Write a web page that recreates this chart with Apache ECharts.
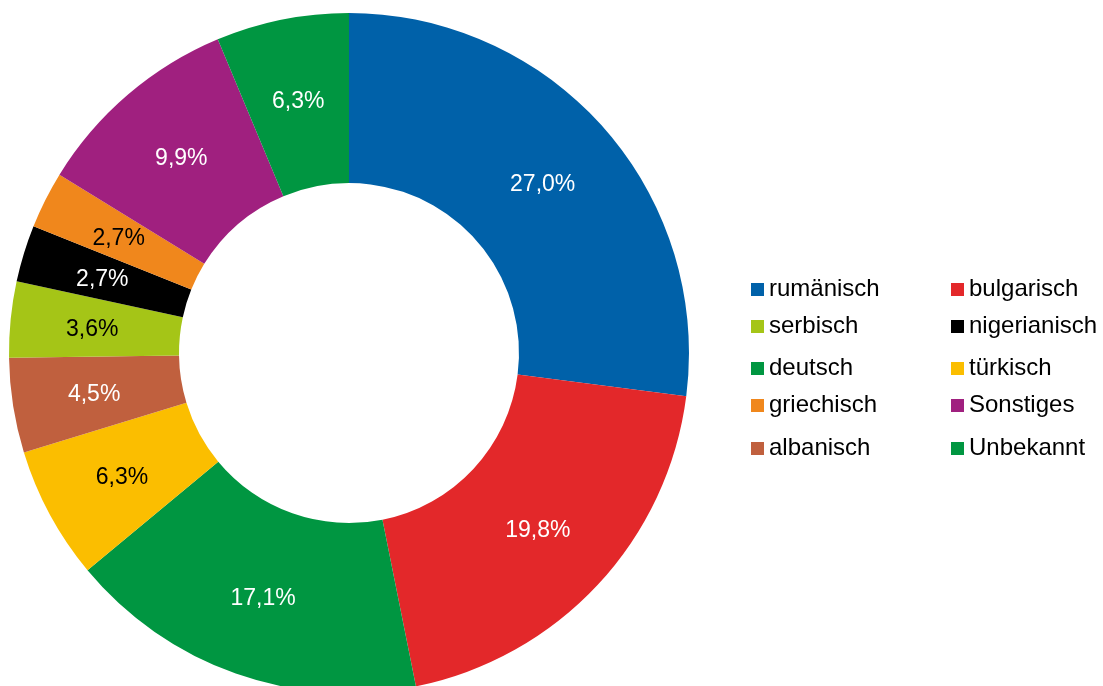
<!DOCTYPE html>
<html>
<head>
<meta charset="utf-8">
<script src="https://cdn.jsdelivr.net/npm/echarts@6/dist/echarts.min.js"></script>
<style>
  html, body { margin: 0; padding: 0; background: #ffffff; }
  #chart { width: 1103px; height: 686px; }
</style>
</head>
<body>
<div id="chart"></div>
<script>
// Staatsangehörigkeit – Anteile in Prozent (Reihenfolge im Uhrzeigersinn ab 12 Uhr)
const categories = ['rumänisch', 'bulgarisch', 'deutsch', 'türkisch', 'albanisch',
                    'serbisch', 'nigerianisch', 'griechisch', 'Sonstiges', 'Unbekannt'];
const shares = [27.0, 19.8, 17.1, 6.3, 4.5, 3.6, 2.7, 2.7, 9.9, 6.3];
const colors = ['#0061A9', '#E3282A', '#009641', '#FBBE00', '#C0603E',
                '#A5C517', '#000000', '#F0871C', '#A0207F', '#009641'];
const labelColors = ['#ffffff', '#ffffff', '#ffffff', '#000000', '#ffffff',
                     '#000000', '#ffffff', '#000000', '#ffffff', '#ffffff'];

// Legende: zwei Spalten, zeilenweise gelesen
const legendRows = [
  ['rumänisch', 'bulgarisch'],
  ['serbisch', 'nigerianisch'],
  ['deutsch', 'türkisch'],
  ['griechisch', 'Sonstiges'],
  ['albanisch', 'Unbekannt']
];
const legendRowY = [288, 325, 367, 404, 447];
const legendColX = [751, 951];

const fontFamily = '"Liberation Sans", Arial, sans-serif';
const fmt = v => v.toFixed(1).replace('.', ',') + '%';

const legends = [];
legendRows.forEach((row, r) => {
  row.forEach((name, c) => {
    legends.push({
      data: [name],
      left: legendColX[c],
      top: legendRowY[r] - 10.5,
      padding: 0,
      icon: 'rect',
      itemWidth: 13,
      itemHeight: 13,
      itemGap: 0,
      selectedMode: false,
      textStyle: { fontFamily, fontSize: 24, color: '#000000', padding: [0, 0, 0, 0] }
    });
  });
});

const chart = echarts.init(document.getElementById('chart'), null, { renderer: 'canvas' });
chart.setOption({
  animation: false,
  backgroundColor: '#ffffff',
  legend: legends,
  series: [{
    type: 'pie',
    center: [349, 353],
    radius: [170, 340],
    startAngle: 90,
    clockwise: true,
    avoidLabelOverlap: false,
    label: {
      show: true,
      position: 'inside',
      fontFamily,
      fontSize: 23,
      offset: [0, 2],
      formatter: p => fmt(p.value)
    },
    labelLine: { show: false },
    itemStyle: { borderWidth: 0 },
    emphasis: { disabled: true },
    data: categories.map((name, i) => ({
      name,
      value: shares[i],
      itemStyle: { color: colors[i] },
      label: { color: labelColors[i] }
    }))
  }]
});
</script>
</body>
</html>
